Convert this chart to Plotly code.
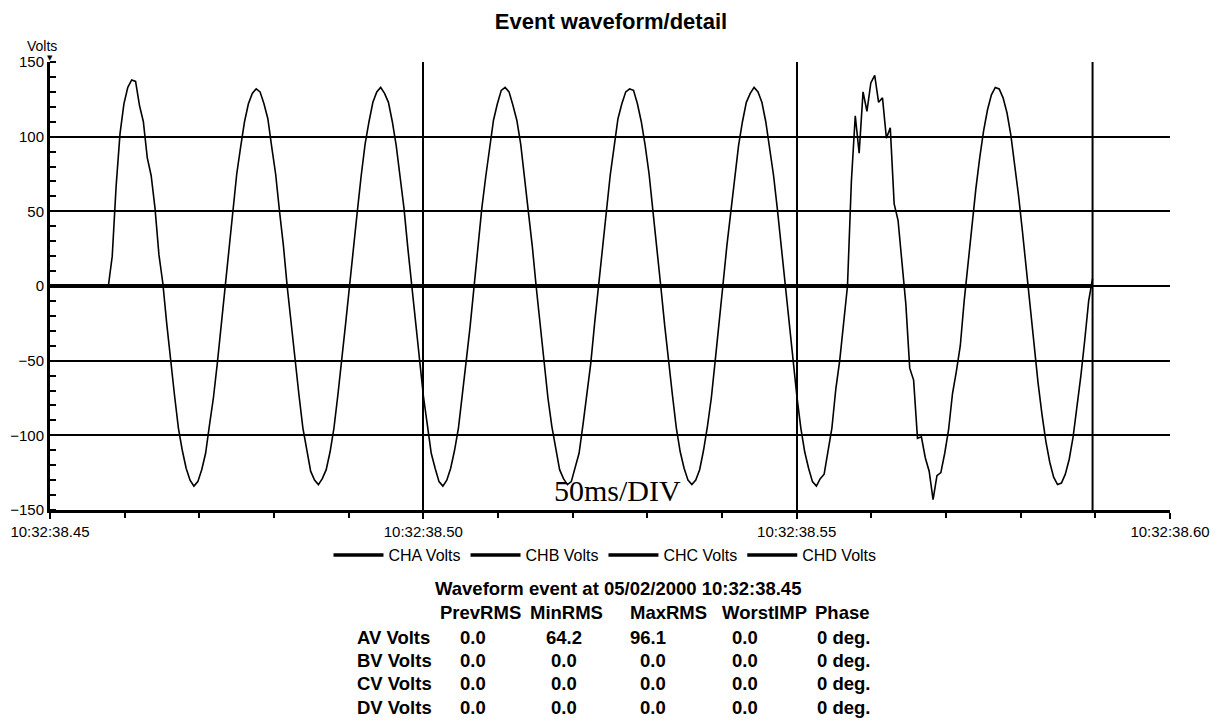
import plotly.graph_objects as go

# ---------------- data ----------------
CHANNEL_NAMES = ["CHA Volts", "CHB Volts", "CHC Volts", "CHD Volts"]
START_SECONDS = 38.45          # 10:32:38.45
SAMPLE_INTERVAL_S = 0.000521   # sample spacing of the recorded waveform

CHA_VOLTS = [
    0, 0, 0, 0, 0, 0, 0, 0, 0, 0, 0, 0, 0, 0, 0, 0,
    20, 67, 102, 122, 133, 138, 137, 121, 110, 86, 74, 52, 21, 2,
    -25, -50, -73, -95, -110, -122, -130, -134, -131, -123, -112, -93, -75, -52, -27, 1,
    25, 50, 75, 93, 110, 122, 129,
    132, 130, 122, 112, 93, 75, 50, 27, -1, -26, -52, -73, -95, -110, -124, -130,
    -133, -129, -123, -111, -95, -73, -51, -25, 0, 27, 50, 74, 95, 110, 123, 130,
    133, 129, 123, 110, 94, 73, 52, 25, 0, -27, -50, -74, -93, -112, -122, -131,
    -134, -130, -122, -110, -95, -74, -50, -27, 1, 25, 52, 73, 94, 111, 122, 131,
    133, 130, 121, 111, 95, 73, 50, 26, -1, -25, -51, -75, -94, -110, -123, -129,
    -133, -131, -122, -112, -93, -74, -52, -25, 0, 26, 51, 74, 93, 112, 122, 130,
    132, 131, 122, 110, 94, 75, 50, 27, 0, -26, -52, -73, -95, -111, -122, -130,
    -133, -130, -123, -110, -94, -75, -50, -26, 1, 27, 50, 75, 94, 110, 123, 129,
    133, 130, 123, 110, 93, 74, 51, 25, -1, -27, -50, -74, -95, -111, -122, -131, -134,
    -129, -126, -110, -95, -69, -50, -25, 0, 70, 114, 89, 130, 117, 136, 141, 123,
    126, 99, 106, 55, 44, 18, -12, -55, -63, -102, -101, -115, -124, -143, -127, -125,
    -112, -96, -72, -57, -40,
    -10, 16, 41, 65, 86, 104, 118, 128, 133, 132, 126, 116, 101, 82, 60, 36,
    10, -16, -41, -65, -86, -104, -118, -128, -133, -132, -126, -116, -101, -82, -60, -36,
    -10, 5,
]
CHB_VOLTS = [0.0] * len(CHA_VOLTS)
CHC_VOLTS = [0.0] * len(CHA_VOLTS)
CHD_VOLTS = [0.0] * len(CHA_VOLTS)

X_TICK_VALUES = [38.45, 38.50, 38.55, 38.60]
X_TICK_LABELS = ["10:32:38.45", "10:32:38.50", "10:32:38.55", "10:32:38.60"]
Y_TICK_VALUES = [-150, -100, -50, 0, 50, 100, 150]

TABLE_TITLE = "Waveform event at 05/02/2000 10:32:38.45"
TABLE_HEADERS = ["PrevRMS", "MinRMS", "MaxRMS", "WorstIMP", "Phase"]
ROW_LABELS = ["AV Volts", "BV Volts", "CV Volts", "DV Volts"]
PREV_RMS = [0.0, 0.0, 0.0, 0.0]
MIN_RMS = [64.2, 0.0, 0.0, 0.0]
MAX_RMS = [96.1, 0.0, 0.0, 0.0]
WORST_IMP = [0.0, 0.0, 0.0, 0.0]
PHASE_DEG = [0, 0, 0, 0]

# ---------------- figure ----------------
FONT = "Liberation Sans, Arial, sans-serif"
W, H = 1223, 721
OFF = 8  # page margin around the figure
# plot area (page pixels)
SL, SR, ST, SB = 50, 1170, 62, 510
PL, PR, PT, PB = SL - OFF, SR - OFF, ST - OFF, SB - OFF


def px_x(px):
    return (px - SL) / (SR - SL)


def px_y(py):
    return (SB - py) / (SB - ST)


times = [START_SECONDS + i * SAMPLE_INTERVAL_S for i in range(len(CHA_VOLTS))]

fig = go.Figure()

# legend entries (all legend symbols drawn equally thick)
for name in CHANNEL_NAMES:
    fig.add_trace(go.Scatter(x=[None], y=[None], mode="lines", name=name,
                             line=dict(color="black", width=3.5),
                             legendgroup=name, showlegend=True))

for name, vals in zip(CHANNEL_NAMES[1:], [CHB_VOLTS, CHC_VOLTS, CHD_VOLTS]):
    fig.add_trace(go.Scatter(x=times, y=vals, mode="lines", name=name,
                             line=dict(color="black", width=3.5),
                             legendgroup=name, showlegend=False, hoverinfo="skip"))

fig.add_trace(go.Scatter(x=times, y=CHA_VOLTS, mode="lines", name=CHANNEL_NAMES[0],
                         line=dict(color="black", width=1.6),
                         legendgroup=CHANNEL_NAMES[0], showlegend=False))

# cursor at end of recorded waveform
fig.add_shape(type="line", xref="x", yref="paper", x0=times[-1], x1=times[-1],
              y0=0, y1=1, line=dict(color="black", width=2))

annotations = []
annotations.append(dict(text="Volts", xref="paper", yref="paper", x=px_x(42), y=px_y(46),
                        showarrow=False, xanchor="center", yanchor="middle",
                        font=dict(family=FONT, size=14, color="black")))
annotations.append(dict(text="▼", xref="paper", yref="paper", x=px_x(50), y=px_y(58),
                        showarrow=False, xanchor="center", yanchor="middle",
                        font=dict(family="DejaVu Sans", size=7, color="black")))
annotations.append(dict(text="50ms/DIV", xref="paper", yref="paper", x=px_x(617), y=px_y(490),
                        showarrow=False, xanchor="center", yanchor="middle",
                        font=dict(family="Liberation Serif, Times New Roman, serif", size=30,
                                  color="black")))

bold = dict(family=FONT, size=18.5, color="black")
annotations.append(dict(text="<b>%s</b>" % TABLE_TITLE, xref="paper", yref="paper",
                        x=px_x(618), y=px_y(588), showarrow=False,
                        xanchor="center", yanchor="middle", font=bold))
header_x = [480, 566, 668, 764, 813]
header_anchor = ["center", "center", "center", "center", "left"]
for htxt, hx, ha in zip(TABLE_HEADERS, header_x, header_anchor):
    annotations.append(dict(text="<b>%s</b>" % htxt, xref="paper", yref="paper",
                            x=px_x(hx), y=px_y(612), showarrow=False,
                            xanchor=ha, yanchor="middle", font=bold))
row_y = [637, 660, 683, 707]
for r, label in enumerate(ROW_LABELS):
    cells = [
        (label, 355, "left"),
        ("%.1f" % PREV_RMS[r], 473, "center"),
        ("%.1f" % MIN_RMS[r], 564, "center"),
        ("%.1f" % MAX_RMS[r], 668, "right"),
        ("%.1f" % WORST_IMP[r], 745, "center"),
        ("%d deg." % PHASE_DEG[r], 843, "center"),
    ]
    for txt, cx, anc in cells:
        annotations.append(dict(text="<b>%s</b>" % txt, xref="paper", yref="paper",
                                x=px_x(cx), y=px_y(row_y[r]), showarrow=False,
                                xanchor=anc, yanchor="middle", font=bold))

fig.update_layout(
    width=W, height=H,
    margin=dict(l=PL, r=W - PR, t=PT, b=H - PB, autoexpand=False),
    paper_bgcolor="white", plot_bgcolor="white",
    font=dict(family=FONT, color="black", size=15),
    title=dict(text="<b>Event waveform/detail</b>", x=(611 - OFF) / W, xref="container",
               y=1 - (21 - OFF) / H, yref="container", xanchor="center", yanchor="middle",
               font=dict(family=FONT, size=22, color="black")),
    showlegend=True,
    legend=dict(orientation="h", x=px_x(605), y=px_y(555), xanchor="center", yanchor="middle",
                font=dict(family=FONT, size=16, color="black"), itemwidth=50,
                bgcolor="rgba(0,0,0,0)", traceorder="normal"),
    annotations=annotations,
)

fig.update_xaxes(
    range=[X_TICK_VALUES[0], X_TICK_VALUES[-1]], automargin=False,
    tickmode="array", tickvals=X_TICK_VALUES, ticktext=X_TICK_LABELS,
    ticks="outside", ticklen=6, tickwidth=1.5, tickcolor="black",
    tickfont=dict(family=FONT, size=15, color="black"),
    showgrid=True, gridcolor="black", gridwidth=1.5,
    showline=True, linecolor="black", linewidth=3,
    zeroline=False,
    minor=dict(tickmode="linear", tick0=X_TICK_VALUES[0], dtick=0.01, ticks="outside",
               ticklen=5, tickwidth=1.5, tickcolor="black", showgrid=False),
)
fig.update_yaxes(
    range=[Y_TICK_VALUES[0], Y_TICK_VALUES[-1]], automargin=False,
    tickmode="array", tickvals=Y_TICK_VALUES,
    ticks="", tickfont=dict(family=FONT, size=15, color="black"),
    showgrid=True, gridcolor="black", gridwidth=1.5,
    showline=True, linecolor="black", linewidth=3,
    zeroline=False,
    minor=dict(tickmode="linear", tick0=Y_TICK_VALUES[0], dtick=10, ticks="inside",
               ticklen=6, tickwidth=1.5, tickcolor="black", showgrid=False),
)

fig.write_html("out.html")
